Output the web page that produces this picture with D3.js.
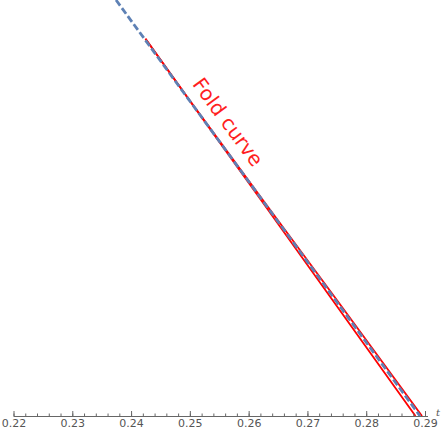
<!DOCTYPE html>
<html>
<head>
<meta charset="utf-8">
<script src="https://cdn.jsdelivr.net/npm/d3@7"></script>
<style>
  body { margin: 0; background: #fff; }
  svg { display: block; }
  .axis path, .axis line { stroke: #666; }
  .axis text { fill: #555; font-family: "DejaVu Sans", sans-serif; font-size: 11px; }
</style>
</head>
<body>
<svg id="chart" width="443" height="431"></svg>
<script>
// parameter values (x) and the second coordinate (y, no axis shown)
const dashedX = [0.23744, 0.24985, 0.26227, 0.27469, 0.28915];
const dashedY = [1.0, 0.76, 0.52, 0.28, 0.0];

// fold curve: two branches meeting near the top
const foldLeftX = [0.24245, 0.24985, 0.26207, 0.27420, 0.28838];
const foldRightX = [0.24245, 0.24990, 0.26239, 0.27494, 0.28949];
const foldY = [0.907, 0.76, 0.52, 0.28, 0.0];

const majorTicks = [0.22, 0.23, 0.24, 0.25, 0.26, 0.27, 0.28, 0.29];
const minorTicks = d3.range(0, 36).map(i => +(0.22 + i * 0.002).toFixed(3));
const axisLabel = "t";
const curveLabel = "Fold curve";

const svg = d3.select("#chart");
const axisY = 416;

const x = d3.scaleLinear().domain([0.22, 0.29]).range([13.5, 425]);
const y = d3.scaleLinear().domain([0, 1]).range([axisY, 0]);

svg.append("defs").append("clipPath").attr("id", "plot")
    .append("rect").attr("x", 0).attr("y", 0).attr("width", 443).attr("height", axisY);

const line = d3.line().x(d => x(d[0])).y(d => y(d[1]));
const plot = svg.append("g").attr("clip-path", "url(#plot)");

// red fold branches underneath
[foldLeftX, foldRightX].forEach(xs => {
    plot.append("path")
        .datum(xs.map((v, i) => [v, foldY[i]]))
        .attr("fill", "none")
        .attr("stroke", "#ff0000")
        .attr("stroke-width", 1.8)
        .attr("d", line);
});

// blue dashed curve on top
plot.append("path")
    .datum(dashedX.map((v, i) => [v, dashedY[i]]))
    .attr("fill", "none")
    .attr("stroke", "#5e81b5")
    .attr("stroke-width", 2.8)
    .attr("stroke-dasharray", "7,3")
    .attr("d", line);

// minor ticks
svg.append("g")
    .attr("class", "axis")
    .attr("transform", `translate(0,${axisY})`)
    .call(d3.axisBottom(x).tickValues(minorTicks).tickSize(-2.5).tickFormat(""))
    .call(g => g.select(".domain").remove());

// major ticks with labels
const ax = svg.append("g")
    .attr("class", "axis")
    .attr("transform", `translate(0,${axisY})`)
    .call(d3.axisBottom(x).tickValues(majorTicks).tickSize(-5).tickPadding(3)
        .tickFormat(d3.format(".2f")).tickSizeOuter(0));
ax.select(".domain").attr("d", `M${x(0.22)},0.5H${x(0.29) + 3}`);

svg.append("text")
    .attr("x", 436).attr("y", 416)
    .attr("font-family", "DejaVu Serif, serif")
    .attr("font-style", "italic")
    .attr("font-size", 10)
    .attr("fill", "#555")
    .text(axisLabel);

// curve label, rotated along the curve
svg.append("text")
    .attr("transform", "translate(228,122) rotate(53.7)")
    .attr("text-anchor", "middle")
    .attr("dominant-baseline", "central")
    .attr("font-family", "DejaVu Sans, sans-serif")
    .attr("font-size", 20)
    .attr("fill", "#ff1f1f")
    .text(curveLabel);
</script>
</body>
</html>
